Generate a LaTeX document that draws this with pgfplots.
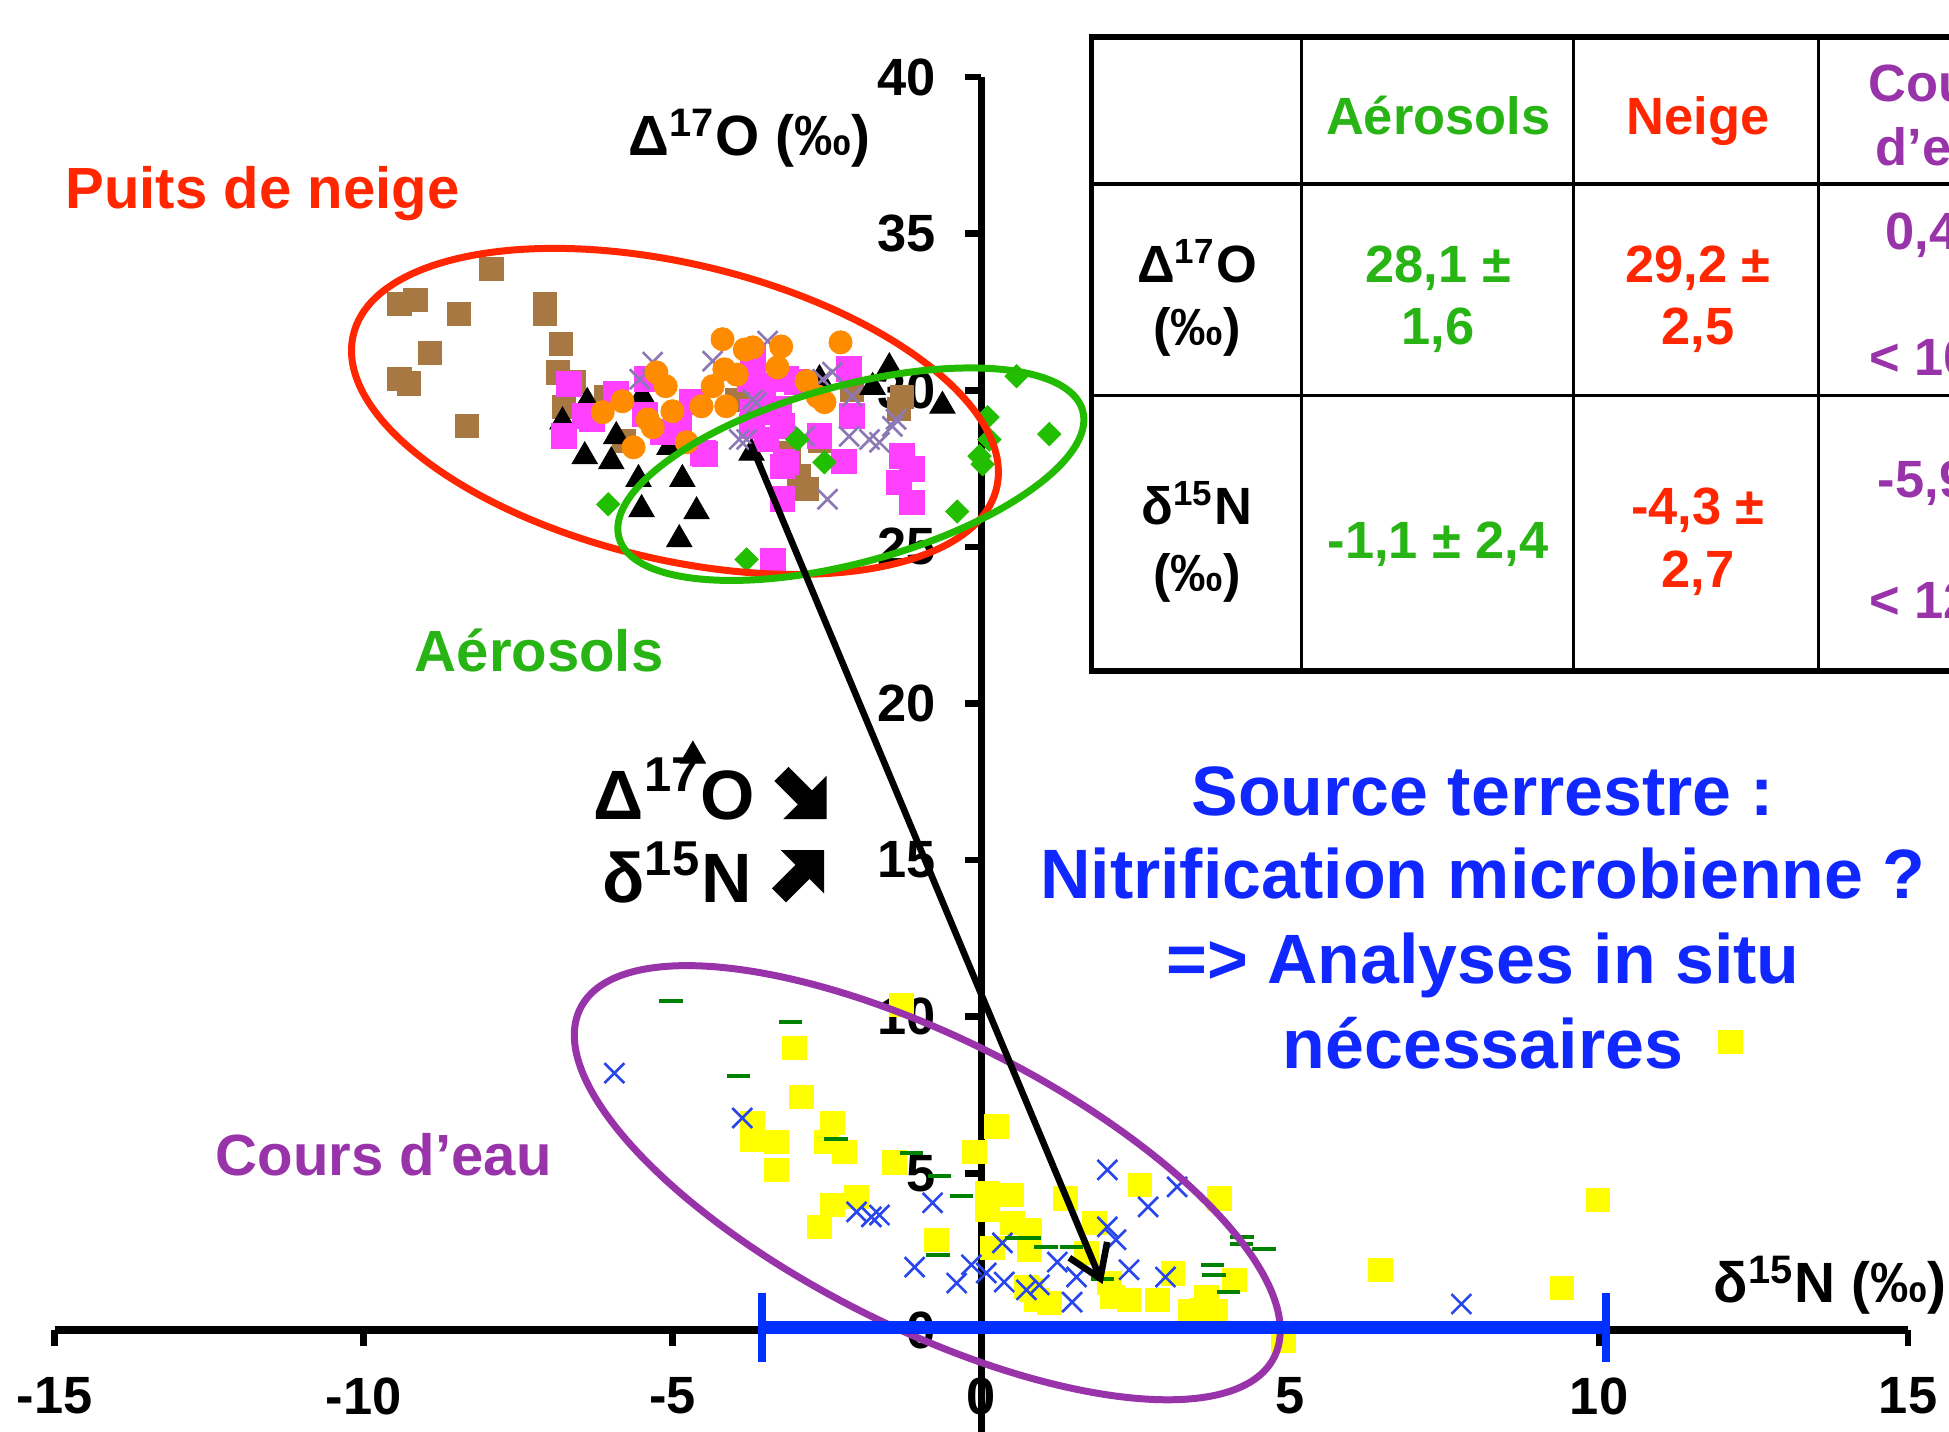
\documentclass[border=0pt]{standalone}
\usepackage{fontspec}
\setmainfont{Liberation Sans}
\usepackage{pgfplots}
\pgfplotsset{compat=1.18}
\usetikzlibrary{arrows.meta}
\definecolor{cRed}{RGB}{255,38,0}
\definecolor{cGreen}{RGB}{34,187,0}
\definecolor{cGreenTxt}{RGB}{40,180,20}
\definecolor{cPurple}{RGB}{153,51,170}
\definecolor{cBlueTxt}{RGB}{16,40,255}
\definecolor{cBar}{RGB}{0,48,255}
\definecolor{cBrown}{RGB}{168,120,66}
\definecolor{cOrange}{RGB}{255,140,0}
\definecolor{cMagenta}{RGB}{255,64,255}
\definecolor{cLav}{RGB}{140,120,180}
\definecolor{cDiam}{RGB}{34,190,0}
\definecolor{cYellow}{RGB}{255,255,0}
\definecolor{cBlueX}{RGB}{40,70,235}
\definecolor{cDash}{RGB}{0,130,0}
\newcommand\fs[1]{\fontsize{#1}{#1}\selectfont\bfseries}
\begin{document}
\begin{tikzpicture}
\path[use as bounding box] (0,0) rectangle (156.8mm,115.2mm);
\clip (0,0) rectangle (156.8mm,115.2mm);
\begin{axis}[
  x=4.97mm, y=2.52mm,
  xmin=-15, xmax=15, ymin=-3.6, ymax=40,
  anchor=south west, at={(4.4mm,-0.872mm)},
  axis lines=middle,
  axis line style={line width=1.7pt, -},
  every inner x axis line/.append style={-},
  every inner y axis line/.append style={-},
  tick style={line width=1.5pt, black},
  major tick length=1.3mm,
  tick align=outside,
  xtick={-15,-10,-5,0,5,10,15}, xticklabels={-15,-10,-5,0,5,10,15},
  ytick={0,5,10,15,20,25,30,35,40}, yticklabels={0,5,10,15,20,25,30,35,40},
  hide obscured x ticks=false, hide obscured y ticks=false,
  ticklabel style={font=\fs{12}},
  xticklabel style={anchor=north, yshift=-1.3mm},
  yticklabel style={anchor=east, xshift=-1.1mm},
  clip=false,
  enlargelimits=false,
]
% brown squares
\addplot[only marks, mark=square*, mark size=0.93mm, mark options={fill=cBrown, draw=cBrown, line width=0.2pt}] coordinates {
(-7.93,33.87) (-9.42,32.75) (-9.16,32.88) (-8.45,32.43) (-7.06,32.75) (-7.06,32.45)
(-8.92,31.18) (-9.42,30.35) (-9.26,30.22) (-8.33,28.85) (-6.81,31.47) (-6.86,30.57)
(-6.59,30.26) (-6.75,29.46) (-6.08,29.8) (-5.78,28.37) (-3.96,29.7) (-1.33,29.4)
(-3.11,28.0) (-2.95,27.25) (-2.82,26.84) (-2.09,30.0) (-2.62,28.4) (-3.8,29.7) (-1.29,29.8)
};
% black triangles
\addplot[only marks, mark=triangle*, mark size=1.17mm, mark options={fill=black, draw=black, line width=0.2pt}] coordinates {
(-6.38,29.62) (-6.78,29.0) (-5.91,28.53) (-6.42,27.89) (-5.99,27.73) (-5.49,29.81)
(-5.55,27.16) (-4.84,27.16) (-5.5,26.2) (-4.61,26.13) (-4.89,25.24) (-5.05,28.18)
(-3.72,28.0) (-1.49,30.73) (-1.76,30.1) (-0.63,29.5) (-2.62,30.35) (-4.67,18.33)
};
% magenta squares
\addplot[only marks, mark=square*, mark size=1.0mm, mark options={fill=cMagenta, draw=cMagenta, line width=0.2pt}] coordinates {
(-6.67,30.19) (-6.42,29.17) (-6.76,28.53) (-5.91,29.87) (-5.42,30.35) (-5.45,29.23)
(-5.16,28.66) (-4.89,28.85) (-4.68,29.62) (-4.48,27.96) (-3.75,30.35) (-3.71,28.85)
(-3.7,30.45) (-3.54,30.13) (-3.27,29.4) (-2.98,30.26) (-3.22,28.85) (-3.48,28.43)
(-2.14,30.67) (-2.09,29.17) (-2.62,28.53) (-2.22,27.73) (-3.22,27.57) (-3.22,26.52)
(-1.29,27.9) (-1.12,27.48) (-1.33,27.06) (-1.12,26.42) (-3.38,24.54) (-3.7,29.3)
(-3.7,31.1) (-3.16,30.35) (-3.32,29.3) (-4.51,28.0) (-5.0,28.66) (-3.16,27.7) (-6.3,29.07)
};
% lavender crosses
\addplot[only marks, mark=x, mark size=1.13mm, mark options={draw=cLav, line width=0.6pt}] coordinates {
(-5.32,30.9) (-5.53,30.35) (-4.35,30.93) (-3.64,29.6) (-3.92,28.43) (-3.46,31.57)
(-3.7,29.7) (-3.8,28.43) (-2.86,28.53) (-2.57,30.35) (-2.41,30.58) (-2.09,29.8)
(-2.14,28.53) (-1.81,28.43) (-1.65,28.34) (-1.44,28.85) (-1.38,29.07) (-2.49,26.52)
};
% orange circles
\addplot[only marks, mark=*, mark size=0.93mm, mark options={fill=cOrange, draw=cOrange, line width=0.2pt}] coordinates {
(-4.19,31.63) (-3.83,31.3) (-3.7,31.37) (-5.26,30.57) (-5.11,30.13) (-4.16,30.67)
(-3.96,30.5) (-4.35,30.13) (-5.81,29.65) (-6.13,29.3) (-5.0,29.33) (-4.53,29.49)
(-4.13,29.49) (-5.4,29.07) (-5.32,28.82) (-5.63,28.18) (-4.77,28.34) (-3.24,31.4)
(-3.3,30.73) (-2.83,30.29) (-2.54,29.62) (-2.28,31.53) (-2.65,29.8)
};
% green diamonds
\addplot[only marks, mark=square*, mark size=0.66mm, mark options={rotate=45, fill=cDiam, draw=cDiam, line width=0.2pt}] coordinates {
(0.57,30.45) (0.1,29.14) (0.13,28.43) (-0.03,27.9) (0.02,27.64) (1.1,28.6)
(-0.39,26.13) (-2.54,27.7) (-2.98,28.43) (-3.8,24.6) (-6.04,26.36)
};
% yellow squares
\addplot[only marks, mark=square*, mark size=0.95mm, mark options={fill=cYellow, draw=cYellow, line width=0.2pt}] coordinates {
(-1.29,10.38) (-3.03,9.0) (-2.91,7.44) (-2.41,6.61) (-2.51,6.0) (-2.22,5.69)
(-3.71,6.61) (-3.71,6.07) (-3.32,6.0) (-3.32,5.11) (-1.41,5.34) (-2.02,4.25)
(-2.41,3.99) (-2.62,3.29) (-0.73,2.88) (-0.11,5.69) (0.24,6.49) (0.1,4.38)
(0.1,3.83) (0.49,4.31) (0.5,3.42) (0.18,2.62) (0.78,3.19) (0.78,2.56)
(0.73,1.37) (0.89,0.96) (1.36,4.2) (2.57,4.63) (3.85,4.2) (1.83,3.42)
(1.7,2.46) (1.1,0.86) (2.07,1.5) (2.12,1.05) (2.39,0.96) (2.85,0.96)
(3.1,1.81) (4.1,1.6) (3.58,0.64) (3.38,0.6) (3.79,0.6) (3.64,1.05)
(0.8,1.28) (6.46,1.92) (9.4,1.34) (9.98,4.15) (4.89,-0.35) (12.13,9.2)
};
% blue crosses
\addplot[only marks, mark=x, mark size=1.13mm, mark options={draw=cBlueX, line width=0.6pt}] coordinates {
(-5.94,8.2) (-3.87,6.77) (-2.02,3.77) (-1.78,3.61) (-1.65,3.67) (-0.79,4.06)
(-1.08,2.01) (-0.4,1.5) (-0.16,2.08) (0.08,1.82) (0.34,2.78) (0.37,1.53)
(0.73,1.28) (2.04,5.11) (0.94,1.44) (1.23,2.17) (1.54,1.69) (1.47,0.89)
(2.04,3.29) (2.18,2.88) (2.39,1.92) (2.7,3.93) (3.17,4.57) (2.98,1.69) (7.77,0.83)
};
% green dashes
\addplot[only marks, mark=-, mark size=0.95mm, mark options={draw=cDash, line width=0.95pt}] coordinates {
(-5.02,10.51) (-3.09,9.84) (-3.93,8.12) (-2.35,6.1) (-1.13,5.65) (-0.68,4.92)
(-0.32,4.28) (-0.7,2.4) (0.57,2.94) (0.78,2.94) (1.05,2.65) (1.46,2.65)
(1.96,1.63) (4.22,2.97) (4.21,2.75) (4.58,2.59) (3.74,2.08) (3.77,1.76) (4.0,1.21)
};
\end{axis}
\begin{scope}[x=0.1mm, y=-0.1mm, shift={(0,115.2mm)}]
% ellipses
\draw[cRed, line width=1.6pt, rotate around={-13.4:(543,331)}] (543,331) ellipse [x radius=26.6mm, y radius=11.9mm];
\draw[cGreen, line width=1.6pt, rotate around={15.3:(684.5,381.5)}] (684.5,381.5) ellipse [x radius=19.34mm, y radius=7.11mm];
\draw[cPurple, line width=1.6pt, rotate around={-26.7:(746,951.5)}] (746,951.5) ellipse [x radius=31.24mm, y radius=11.63mm];
% arrow
\draw[line width=1.5pt, -{Straight Barb[length=2.5mm,width=3.3mm]}] (604,357) -- (887,1033);
% blue range bar
\draw[cBar, line width=2.9pt] (613,1068) -- (1292,1068);
\draw[cBar, line width=2pt] (613,1040) -- (613,1096) (1292,1040) -- (1292,1096);
% labels
\node[anchor=base west, inner sep=0pt, font=\fs{13}] at (505,125) {Δ\textsuperscript{17}O (‰)};
\node[anchor=base west, inner sep=0pt, font=\fs{13}] at (1378,1048) {δ\textsuperscript{15}N (‰)};
\node[anchor=base west, inner sep=0pt, text=cRed, font=\fs{13.3}] at (52,168) {Puits de neige};
\node[anchor=base west, inner sep=0pt, text=cGreenTxt, font=\fs{13.3}] at (333,540) {Aérosols};
\node[anchor=base west, inner sep=0pt, text=cPurple, font=\fs{13.3}] at (173,946) {Cours d’eau};
\node[anchor=base west, inner sep=0pt, font=\fs{16}] at (477,659) {Δ\textsuperscript{17}O};
\node[anchor=base west, inner sep=0pt, font=\fs{16}] at (484,726) {δ\textsuperscript{15}N};
% heavy arrows
\fill[black] (634.3,617) -- (653.2,635.9) -- (665,624.1) -- (665,659) -- (630.1,659) -- (641.9,647.2) -- (623,628.3) -- cycle;
\fill[black] (632.3,726) -- (651.2,707.1) -- (663,718.9) -- (663,684) -- (628.1,684) -- (639.9,695.8) -- (621,714.7) -- cycle;
\node[anchor=base, inner sep=0pt, text=cBlueTxt, font=\fs{16}] at (1193,656) {Source terrestre :};
\node[anchor=base, inner sep=0pt, text=cBlueTxt, font=\fs{16}] at (1193,723) {Nitrification microbienne ?};
\node[anchor=base, inner sep=0pt, text=cBlueTxt, font=\fs{16}] at (1193,791) {=> Analyses in situ};
\node[anchor=base, inner sep=0pt, text=cBlueTxt, font=\fs{16}] at (1193,860) {nécessaires};
% table
\filldraw[fill=white, draw=black, line width=1.3pt] (878,30) rectangle (1800,540);
\draw[line width=0.8pt] (1047,30)--(1047,540) (1266,30)--(1266,540) (1463,30)--(1463,540)
  (878,148)--(1800,148) (878,318)--(1800,318);
\begin{scope}[every node/.style={inner sep=0pt, font=\fs{12}}]
\node[anchor=base, text=cGreenTxt] at (1157,108) {Aérosols};
\node[anchor=base, text=cRed] at (1366,108) {Neige};
\node[anchor=base, text=cPurple] at (1564,82) {Cours};
\node[anchor=base, text=cPurple] at (1564,133) {d’eau};
\node[anchor=base] at (963,227) {Δ\textsuperscript{17}O};
\node[anchor=base] at (963,278) {(‰)};
\node[anchor=base, text=cGreenTxt] at (1157,227) {28,1 ±};
\node[anchor=base, text=cGreenTxt] at (1157,277) {1,6};
\node[anchor=base, text=cRed] at (1366,227) {29,2 ±};
\node[anchor=base, text=cRed] at (1366,277) {2,5};
\node[anchor=base west, text=cPurple] at (1516,201) {0,4 ±};
\node[anchor=base west, text=cPurple] at (1503,302) {< 10 \%};
\node[anchor=base] at (963,422) {δ\textsuperscript{15}N};
\node[anchor=base] at (963,476) {(‰)};
\node[anchor=base, text=cGreenTxt] at (1157,449) {-1,1 ± 2,4};
\node[anchor=base, text=cRed] at (1366,422) {-4,3 ±};
\node[anchor=base, text=cRed] at (1366,473) {2,7};
\node[anchor=base west, text=cPurple] at (1510,400) {-5,9 ±};
\node[anchor=base west, text=cPurple] at (1503,498) {< 12 \%};
\end{scope}
\end{scope}
\end{tikzpicture}
\end{document}
